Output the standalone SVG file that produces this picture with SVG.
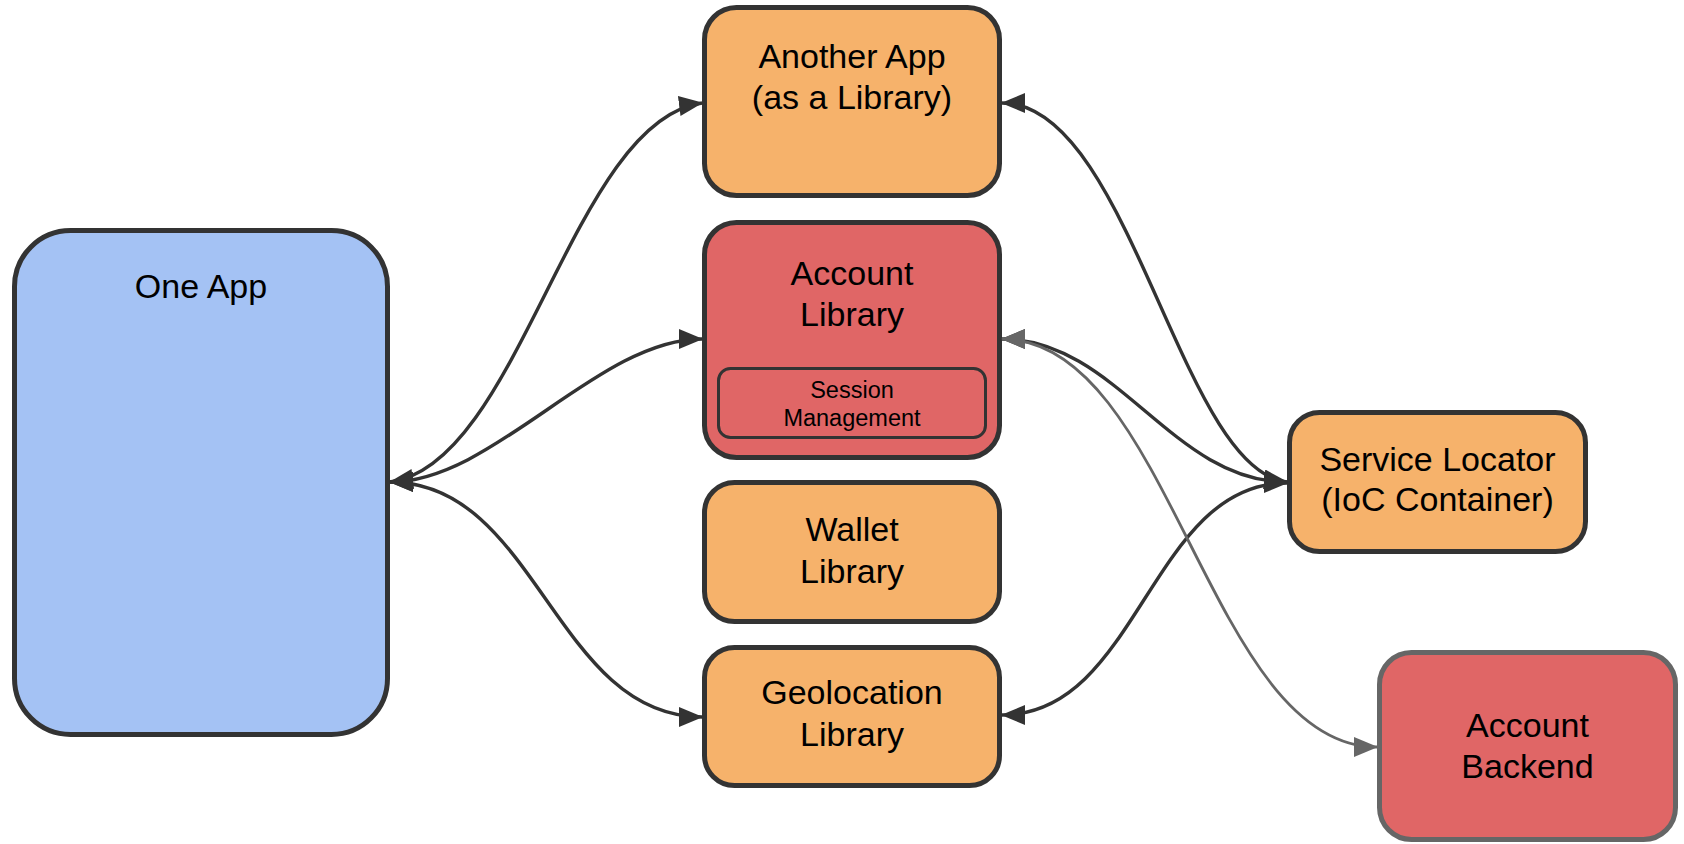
<svg xmlns="http://www.w3.org/2000/svg" width="1684" height="844" viewBox="0 0 1684 844">
<style>
.box{stroke:#333333;stroke-width:5}
.blue{fill:#a4c2f4}
.orange{fill:#f6b26b}
.red{fill:#e06666}
.t{font-family:"Liberation Sans",Arial,sans-serif;font-size:34px;fill:#000;text-anchor:middle}
.ts{font-family:"Liberation Sans",Arial,sans-serif;font-size:23.5px;fill:#000;text-anchor:middle}
.e{fill:none;stroke:#333333;stroke-width:3.4}
.g{fill:none;stroke:#666666;stroke-width:2.8}
</style>
<defs>
<marker id="ab" markerUnits="userSpaceOnUse" markerWidth="24" markerHeight="20" refX="23" refY="10" orient="auto-start-reverse" viewBox="0 0 24 20">
<path d="M0,0 L24,10 L0,20 z" fill="#333333"/>
</marker>
<marker id="ag" markerUnits="userSpaceOnUse" markerWidth="24" markerHeight="20" refX="23" refY="10" orient="auto-start-reverse" viewBox="0 0 24 20">
<path d="M0,0 L24,10 L0,20 z" fill="#666666"/>
</marker>
</defs>

<g id="one-app">
<rect class="box blue" x="14.5" y="230.5" width="373" height="504" rx="56"/>
<text class="t" x="201" y="298">One App</text>
</g>

<g id="another-app">
<rect class="box orange" x="704.5" y="7.5" width="295" height="188" rx="32"/>
<text class="t" x="852" y="68">Another App</text>
<text class="t" x="852" y="109">(as a Library)</text>
</g>

<g id="account-library">
<rect class="box red" x="704.5" y="222.5" width="295" height="235" rx="32"/>
<text class="t" x="852" y="285">Account</text>
<text class="t" x="852" y="326">Library</text>
</g>

<g id="session-management">
<rect class="red" x="718.5" y="368.5" width="267" height="69" rx="12" stroke="#333333" stroke-width="3"/>
<text class="ts" x="852" y="398">Session</text>
<text class="ts" x="852" y="426">Management</text>
</g>

<g id="wallet-library">
<rect class="box orange" x="704.5" y="482.5" width="295" height="139" rx="30"/>
<text class="t" x="852" y="541">Wallet</text>
<text class="t" x="852" y="583">Library</text>
</g>

<g id="geolocation-library">
<rect class="box orange" x="704.5" y="647.5" width="295" height="138" rx="30"/>
<text class="t" x="852" y="704">Geolocation</text>
<text class="t" x="852" y="746">Library</text>
</g>

<g id="service-locator">
<rect class="box orange" x="1289.5" y="412.5" width="296" height="139" rx="30"/>
<text class="t" x="1437.5" y="471">Service Locator</text>
<text class="t" x="1437.5" y="511">(IoC Container)</text>
</g>

<g id="account-backend">
<rect class="red" x="1379.5" y="652.5" width="296" height="187" rx="32" stroke="#666666" stroke-width="5"/>
<text class="t" x="1527.5" y="737">Account</text>
<text class="t" x="1527.5" y="778">Backend</text>
</g>

<g id="connectors">
<path class="e" d="M390,482 C520,465 572,120 702,103" marker-start="url(#ab)" marker-end="url(#ab)"/>
<path class="e" d="M390,482 C494,482 598,339 702,339" marker-start="url(#ab)" marker-end="url(#ab)"/>
<path class="e" d="M390,482 C537,482 555,717 702,717" marker-start="url(#ab)" marker-end="url(#ab)"/>
<path class="e" d="M1002,103 C1130,103 1180,470 1287,482" marker-start="url(#ab)" marker-end="url(#ab)"/>
<path class="e" d="M1002,339 C1117,339 1172,482 1287,482" marker-start="url(#ab)" marker-end="url(#ab)"/>
<path class="e" d="M1002,715 C1139,715 1150,483 1287,483" marker-start="url(#ab)" marker-end="url(#ab)"/>
<path class="g" d="M1002,339 C1171,339 1208,747 1377,747" marker-start="url(#ag)" marker-end="url(#ag)"/>
</g>
</svg>
